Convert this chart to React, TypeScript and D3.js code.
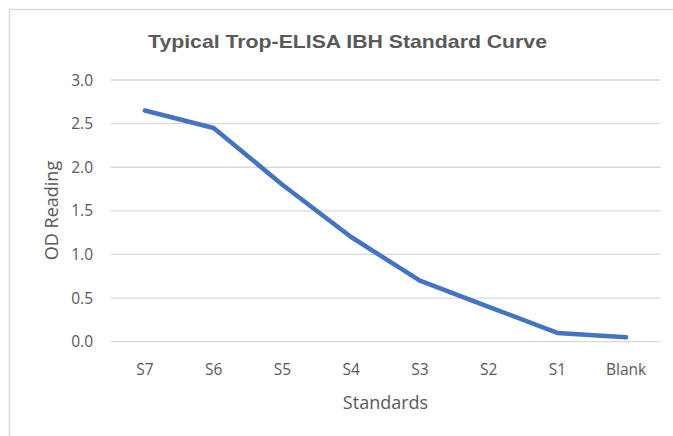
import React from "react";
import * as d3 from "d3";

const categories = ["S7", "S6", "S5", "S4", "S3", "S2", "S1", "Blank"];
const odValues = [2.65, 2.45, 1.8, 1.2, 0.7, 0.4, 0.1, 0.05];
const yTicks = [0, 0.5, 1.0, 1.5, 2.0, 2.5, 3.0];
const titleText = "Typical Trop-ELISA IBH Standard Curve";
const xTitle = "Standards";
const yTitle = "OD Reading";

const W = 673;
const H = 436;
const plot = { left: 110.5, right: 660.5, top: 80, bottom: 341.7 };
const textColor = "#595959";
const gridColor = "#d9d9d9";
const lineColor = "#4472C4";
const bodyFont = "'Open Sans', 'Noto Sans', sans-serif";

export default function App() {
  const x = d3.scaleBand<string>().domain(categories).range([plot.left, plot.right]);
  const y = d3.scaleLinear().domain([0, 3]).range([plot.bottom, plot.top]);
  const line = d3
    .line<number>()
    .x((_, i) => (x(categories[i]) as number) + x.bandwidth() / 2)
    .y((d) => y(d));

  return (
    <svg
      width={W}
      height={H}
      style={{ position: "absolute", left: 0, top: 0, display: "block" }}
    >
      <rect x={0} y={0} width={W} height={H} fill="#ffffff" />
      <rect x={9.5} y={9.5} width={W + 20} height={H + 20} fill="none" stroke={gridColor} strokeWidth={1.5} />
      <text
        x={347.5}
        y={48}
        textAnchor="middle"
        fontFamily="'Liberation Sans', Arial, sans-serif"
        fontWeight="bold"
        fontSize={19}
        fill={textColor}
        textLength={399}
        lengthAdjust="spacingAndGlyphs"
      >
        {titleText}
      </text>
      {yTicks.map((t) => (
        <g key={t}>
          <line x1={plot.left} x2={plot.right} y1={y(t)} y2={y(t)} stroke={gridColor} strokeWidth={1.3} />
          <text
            x={93}
            y={y(t)}
            dy="0.36em"
            textAnchor="end"
            fontFamily={bodyFont}
            fontSize={15.5}
            fill={textColor}
          >
            {t.toFixed(1)}
          </text>
        </g>
      ))}
      {categories.map((c) => (
        <text
          key={c}
          x={(x(c) as number) + x.bandwidth() / 2}
          y={375}
          textAnchor="middle"
          fontFamily={bodyFont}
          fontSize={15.5}
          fill={textColor}
        >
          {c}
        </text>
      ))}
      <path
        d={line(odValues) || ""}
        fill="none"
        stroke={lineColor}
        strokeWidth={4.5}
        strokeLinejoin="round"
        strokeLinecap="round"
      />
      <text
        x={385.5}
        y={409}
        textAnchor="middle"
        fontFamily={bodyFont}
        fontSize={18}
        fill={textColor}
      >
        {xTitle}
      </text>
      <text
        transform={`translate(58,210.5) rotate(-90)`}
        textAnchor="middle"
        fontFamily={bodyFont}
        fontSize={18}
        fill={textColor}
      >
        {yTitle}
      </text>
    </svg>
  );
}
